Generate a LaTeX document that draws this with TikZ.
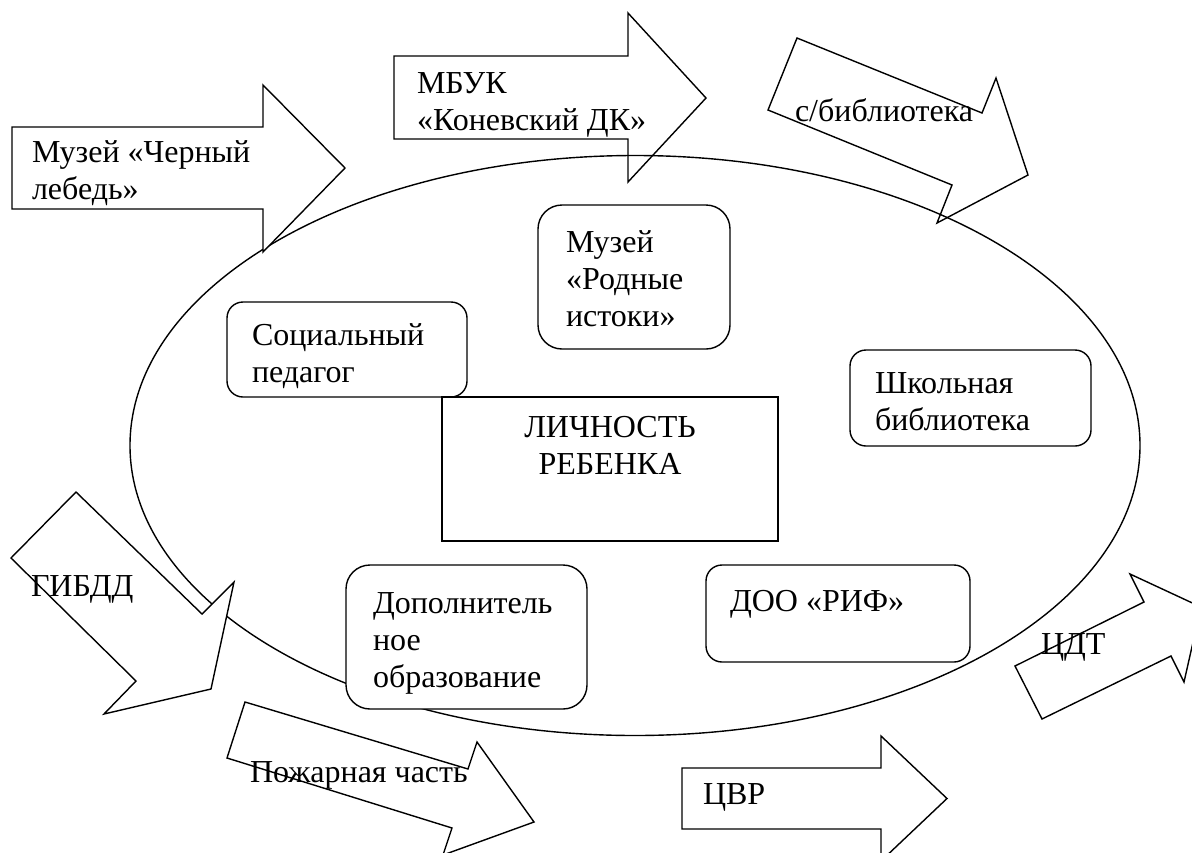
\documentclass[tikz,border=0pt]{standalone}
\usepackage{fontspec}
\setmainfont{Liberation Serif}
\newcommand\mltext[1]{\parbox[t]{400pt}{\raggedright #1}}
\newcommand\mlcenter[1]{\parbox[t]{300pt}{\centering #1}}
\tikzset{
  shp/.style={draw=black, line width=1.4pt, fill=white, line join=miter},
  ell/.style={draw=black, line width=1.4pt},
  bx/.style={draw=black, line width=1.4pt, fill=white, rounded corners=16pt,
    anchor=north west, inner sep=0pt, outer sep=0pt},
  bxr/.style={bx, rounded corners=24pt},
  sq/.style={draw=black, line width=1.4pt, fill=white, anchor=north west,
    inner sep=0pt, outer sep=0pt},
  txt/.style={inner sep=0pt, outer sep=0pt, font=\fontsize{32}{37}\selectfont,
    anchor=base west},
}
\begin{document}
\begin{tikzpicture}[x=1pt, y=-1pt]
\useasboundingbox (0,0) rectangle (1192,852);
\clip (0,0) rectangle (1192,852);
\fill[white] (0,0) rectangle (1192,852);

% arrows lying under the ellipse
\draw[shp] (394,56) -- (628,56) -- (628,13) -- (706,98) -- (628,182) -- (628,139) -- (394,139) -- cycle;
\draw[shp] (797,38) -- (982,113) -- (996,78) -- (1028,175) -- (937,223) -- (952,185) -- (768,110) -- cycle;

% ellipse
\draw[ell] (635,445.5) ellipse [x radius=505, y radius=290];

% other arrows
\draw[shp] (12,127) -- (263,127) -- (263,85) -- (345,168) -- (263,252) -- (263,209) -- (12,209) -- cycle;
\draw[shp] (76,492) -- (202,614) -- (234,582) -- (211,689) -- (104,714) -- (136,681) -- (11,558) -- cycle;
\draw[shp] (245,702) -- (468,769) -- (477,742) -- (534,822) -- (443,855) -- (452,828) -- (227,758) -- cycle;
\draw[shp] (682,768) -- (881,768) -- (881,736) -- (947,798.5) -- (881,861) -- (881,829) -- (682,829) -- cycle;
\draw[shp] (1015,666) -- (1144,602) -- (1130,574) -- (1201,607) -- (1184,682) -- (1171,656) -- (1042,719) -- cycle;

% boxes
\node[bxr, minimum width=192pt, minimum height=144pt] (rod) at (538,205) {};
\node[bx, minimum width=240pt, minimum height=95pt] (soc) at (227,302) {};
\node[sq, minimum width=336pt, minimum height=144pt] (lich) at (442,397) {};
\node[bx, minimum width=241pt, minimum height=96pt] (shk) at (850,350) {};
\node[bxr, minimum width=241pt, minimum height=144pt] (dop) at (346,565) {};
\node[bx, minimum width=264pt, minimum height=97pt] (doo) at (706,565) {};

% texts
\node[txt] (tmch) at (32,162) {\mltext{Музей «Черный\\лебедь»}};
\node[txt] (tmbuk) at (417,93) {\mltext{МБУК\\«Коневский ДК»}};
\node[txt] (tsbib) at (795,121) {с/библиотека};
\node[txt] (trod) at (566,252) {\mltext{Музей\\«Родные\\истоки»}};
\node[txt] (tsoc) at (252,345) {\mltext{Социальный\\педагог}};
\node[txt, anchor=base] (tlich) at (610,437) {\mlcenter{ЛИЧНОСТЬ\\РЕБЕНКА}};
\node[txt] (tshk) at (875,393) {\mltext{Школьная\\библиотека}};
\node[txt] (tdop) at (373,613) {\mltext{Дополнитель\\ное\\образование}};
\node[txt] (tdoo) at (730,611) {ДОО «РИФ»};
\node[txt] (tgibdd) at (31,596) {ГИБДД};
\node[txt] (tpozh) at (250,782) {Пожарная часть};
\node[txt] (tcvr) at (703,804) {ЦВР};
\node[txt] (tcdt) at (1041,654) {ЦДТ};
\end{tikzpicture}
\end{document}
